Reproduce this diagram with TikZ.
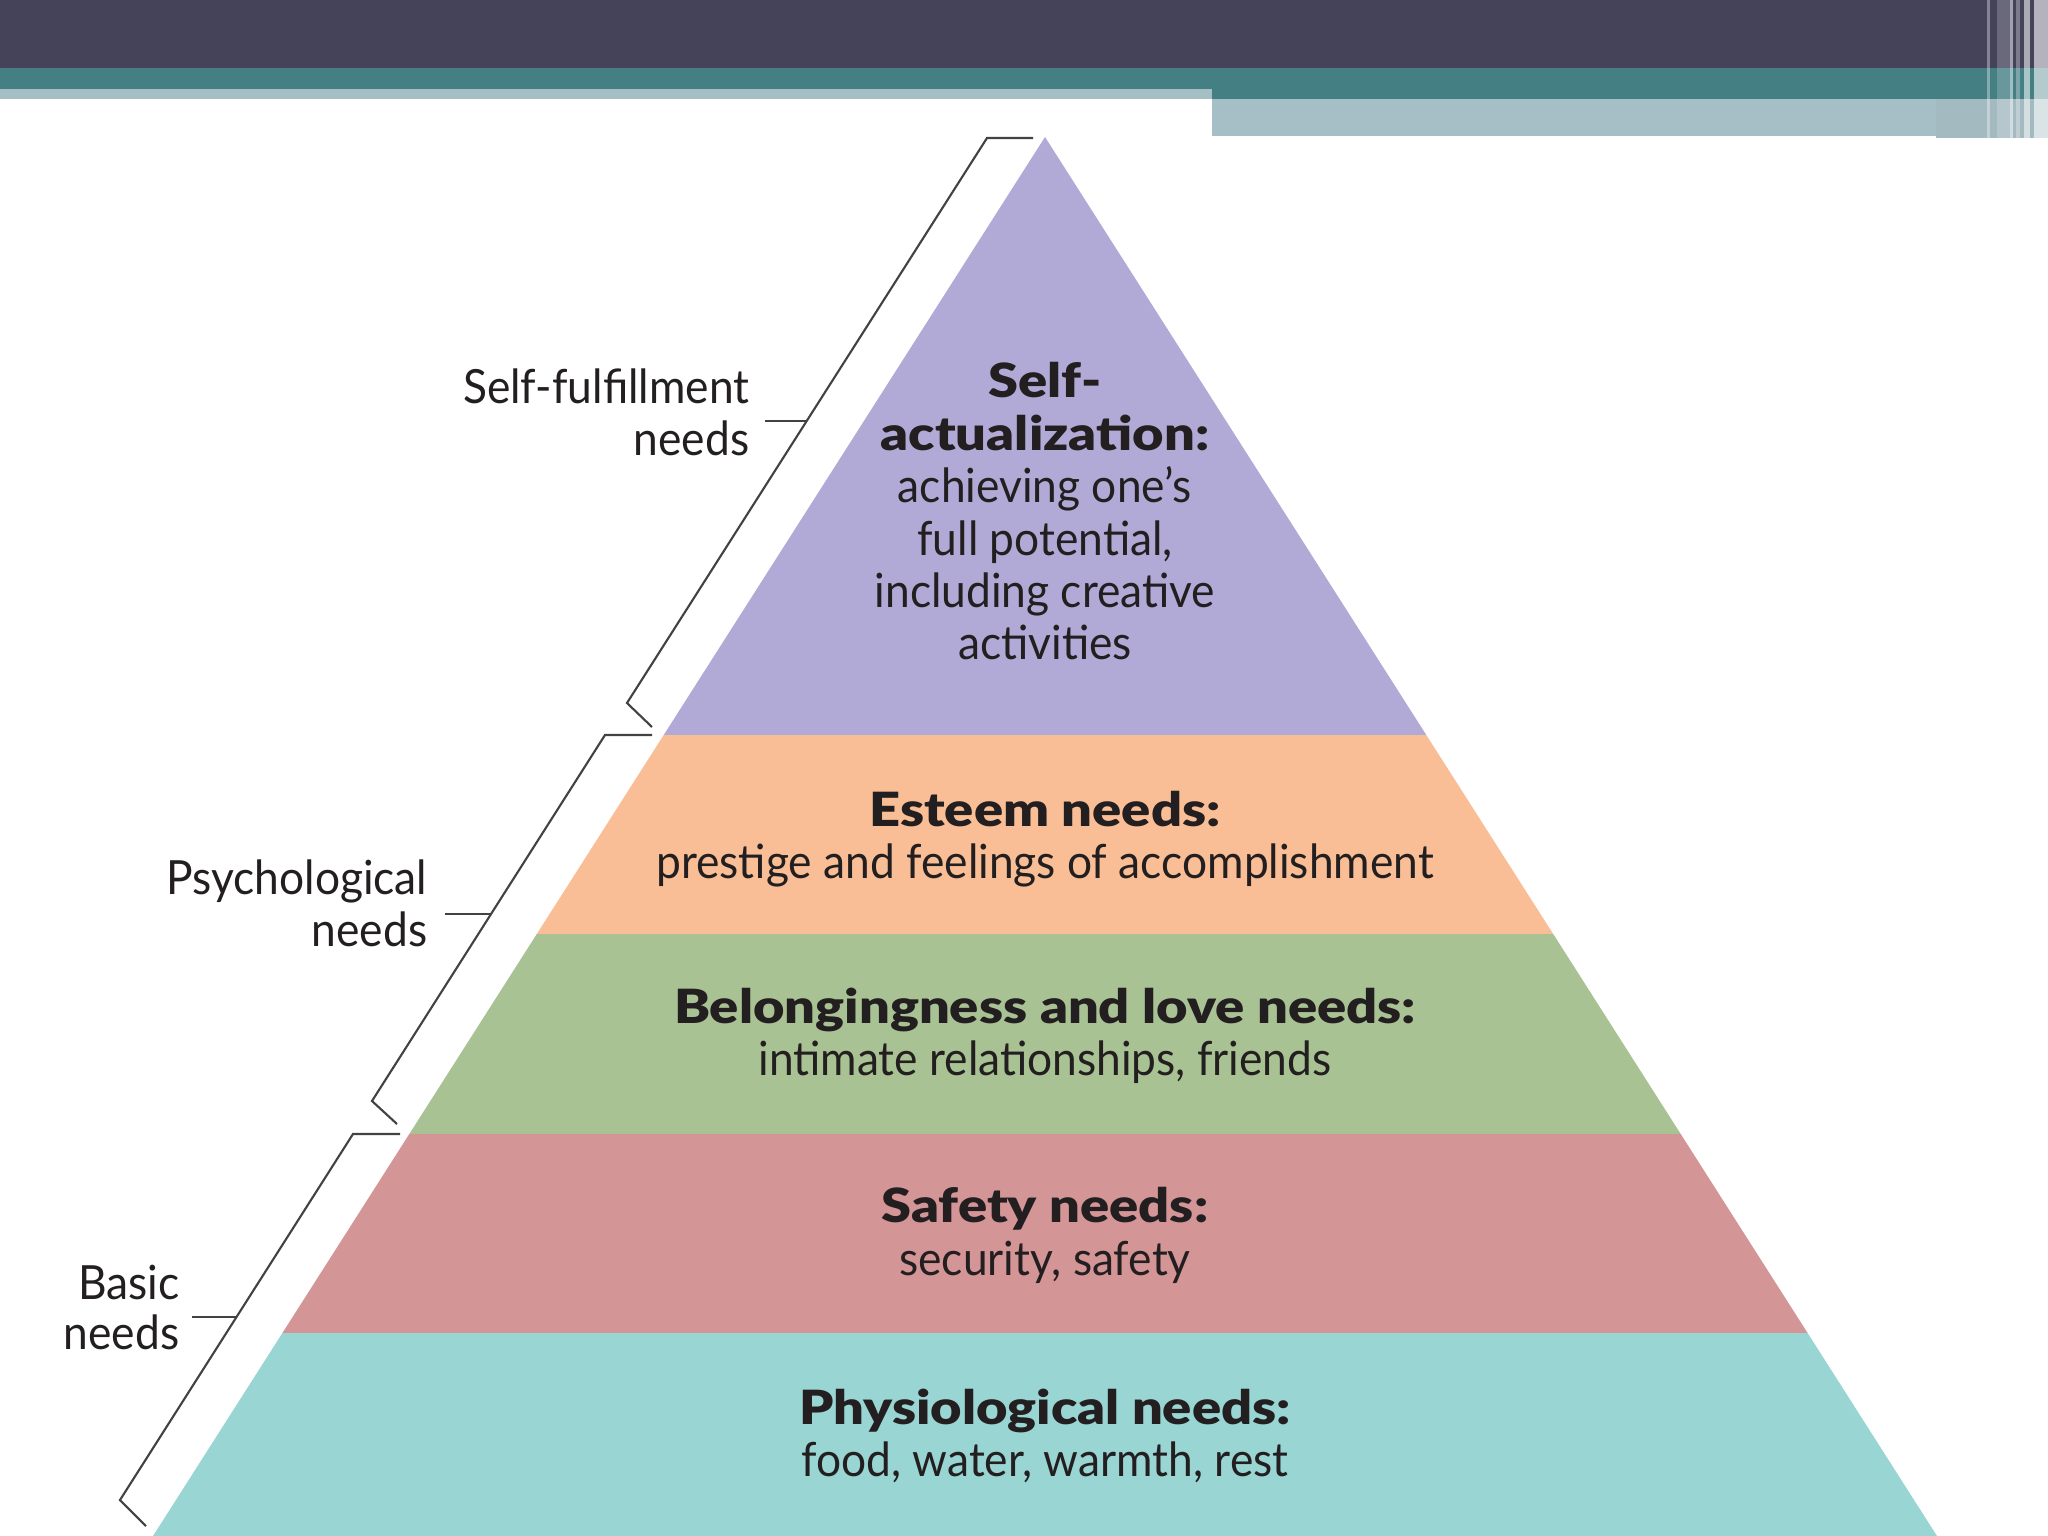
\documentclass[tikz,border=0pt]{standalone}
\usepackage{fontspec}
\setmainfont[FakeStretch=0.94]{Lato}
\newfontfamily\hdfont[FakeStretch=1.15]{Lato Black}
\definecolor{topdark}{HTML}{45435A}
\definecolor{topteal}{HTML}{447F84}
\definecolor{toplight}{HTML}{A6BFC6}
\definecolor{cPurple}{HTML}{B1AAD6}
\definecolor{cOrange}{HTML}{F9BE95}
\definecolor{cGreen}{HTML}{A8C293}
\definecolor{cPink}{HTML}{D49597}
\definecolor{cCyan}{HTML}{98D5D3}
\definecolor{ink}{HTML}{231F20}
\begin{document}
\begin{tikzpicture}[x=0.01cm,y=-0.01cm,
  txt/.style={inner sep=0pt, text=ink, font=\fontsize{13.4}{16}\selectfont},
  bld/.style={inner sep=0pt, text=ink, font=\fontsize{13.4}{16}\selectfont\hdfont},
  brk/.style={draw=ink!85, line width=0.6pt, line join=miter}]
\useasboundingbox (0,0) rectangle (2048,1536);
\fill[white] (0,0) rectangle (2048,1536);
% top bars
\fill[topdark] (0,0) rectangle (2048,68);
\fill[topteal] (0,68) rectangle (2048,99);
\fill[toplight] (0,89) rectangle (1212,99);
\fill[toplight] (1212,99) rectangle (1936,136);
\fill[toplight!92!gray] (1936,99) rectangle (2048,138);
\fill[white,opacity=0.35] (1987,0) rectangle (1990,138);
\fill[white,opacity=0.2] (1997,0) rectangle (2010,138);
\fill[white,opacity=0.5] (2010,0) rectangle (2013,138);
\fill[white,opacity=0.3] (2016,0) rectangle (2020,138);
\fill[white,opacity=0.55] (2024,0) rectangle (2030,138);
\fill[white,opacity=0.6] (2034,0) rectangle (2048,138);
% pyramid layers
\fill[cPurple] (1045,137) -- (1426.3,735) -- (663.7,735) -- cycle;
\fill[cOrange] (663.7,735) -- (1426.3,735) -- (1553.2,934) -- (536.8,934) -- cycle;
\fill[cGreen] (536.8,934) -- (1553.2,934) -- (1680.7,1134) -- (409.3,1134) -- cycle;
\fill[cPink] (409.3,1134) -- (1680.7,1134) -- (1807.6,1333) -- (282.4,1333) -- cycle;
\fill[cCyan] (282.4,1333) -- (1807.6,1333) -- (1937,1536) -- (153,1536) -- cycle;
% pyramid texts
\node[bld, anchor=base] (sa1) at (1045,397) {Self-};
\node[bld, anchor=base] (sa2) at (1045,450) {actualization:};
\node[txt, anchor=base] (sa3) at (1045,502) {achieving one’s};
\node[txt, anchor=base] (sa4) at (1045,555) {full potential,};
\node[txt, anchor=base] (sa5) at (1045,607) {including creative};
\node[txt, anchor=base] (sa6) at (1045,659) {activities};
\node[bld, anchor=base] (es1) at (1045,826) {Esteem needs:};
\node[txt, anchor=base] (es2) at (1045,878) {prestige and feelings of accomplishment};
\node[bld, anchor=base] (bl1) at (1045,1023) {Belongingness and love needs:};
\node[txt, anchor=base] (bl2) at (1045,1075) {intimate relationships, friends};
\node[bld, anchor=base] (sf1) at (1045,1222) {Safety needs:};
\node[txt, anchor=base] (sf2) at (1045,1275) {security, safety};
\node[bld, anchor=base] (ph1) at (1045,1424) {Physiological needs:};
\node[txt, anchor=base] (ph2) at (1045,1476) {food, water, warmth, rest};
% side labels
\node[txt, anchor=base east] (fu1) at (750,403) {Self-fulfillment};
\node[txt, anchor=base east] (fu2) at (750,455) {needs};
\node[txt, anchor=base east] (ps1) at (428,894) {Psychological};
\node[txt, anchor=base east] (ps2) at (428,946) {needs};
\node[txt, anchor=base east] (ba1) at (180,1299) {Basic};
\node[txt, anchor=base east] (ba2) at (180,1349) {needs};
% brackets
\coordinate (fuT) at (1033,138);
\coordinate (fuA) at (987,138);
\coordinate (fuB) at (627,703);
\coordinate (fuC) at (652,727);
\coordinate (psT) at (652,735);
\coordinate (psA) at (605,735);
\coordinate (psB) at (372,1101);
\coordinate (psC) at (397,1124);
\coordinate (baT) at (400,1134);
\coordinate (baA) at (353,1134);
\coordinate (baB) at (120,1500);
\coordinate (baC) at (146,1526);
\draw[brk] (fuT) -- (fuA) -- (fuB) -- (fuC);
\draw[brk] (psT) -- (psA) -- (psB) -- (psC);
\draw[brk] (baT) -- (baA) -- (baB) -- (baC);
% leaders
\coordinate (fuL) at (765,421);
\coordinate (fuR) at (807,421);
\coordinate (psL) at (445,914);
\coordinate (psR) at (491,914);
\coordinate (baL) at (192,1317);
\coordinate (baR) at (236,1317);
\draw[brk] (fuL) -- (fuR);
\draw[brk] (psL) -- (psR);
\draw[brk] (baL) -- (baR);
\end{tikzpicture}
\end{document}
